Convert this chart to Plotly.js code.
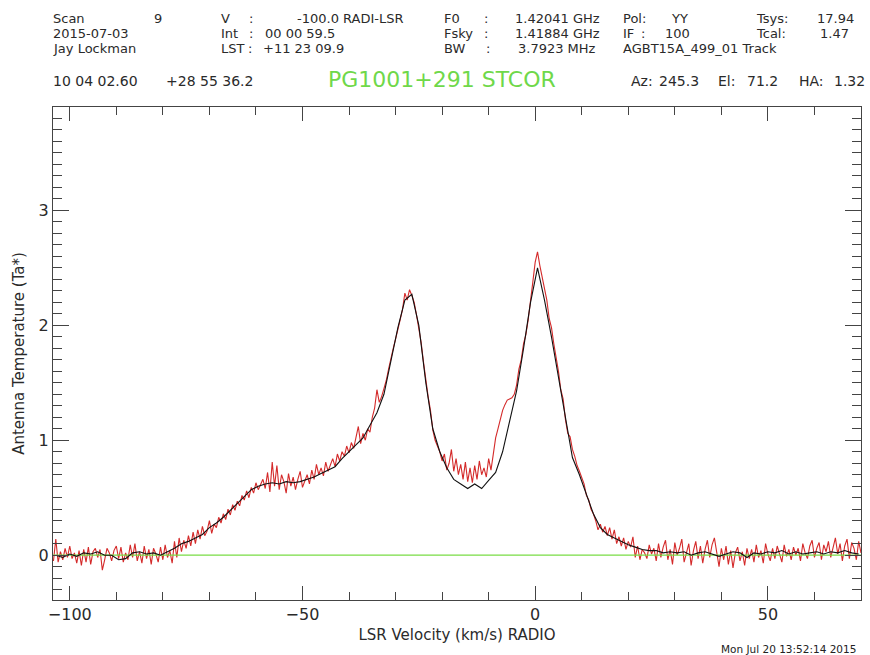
<!DOCTYPE html>
<html>
<head>
<meta charset="utf-8">
<script src="https://cdn.plot.ly/plotly-3.0.1.min.js"></script>
<style>
html,body{margin:0;padding:0;background:#fff;}
#chart{width:870px;height:655px;}
</style>
</head>
<body>
<div id="chart"></div>
<script>
// ---- Data ----
// Raw spectrum (red): channel grid start / width in km/s
const CHANNEL_START = -103.5;
const CHANNEL_WIDTH = 0.5;
const rawTa = [
  -0.05, 0.14, -0.06, 0.03, -0.04, 0.06, -0.02, 0.08, -0.03, 0.02,
  -0.07, 0.04, -0.09, 0.05, -0.06, 0.07, -0.08, 0.03, 0.06, -0.02,
  0.05, -0.13, -0.04, 0.06, 0.02, -0.05, 0.04, 0.08, -0.03, 0.07,
  -0.06, 0.02, -0.04, 0.09, -0.02, 0.10, -0.05, 0.03, -0.07, 0.08,
  -0.03, 0.05, -0.08, 0.06, 0.01, -0.06, 0.07, -0.04, 0.09, -0.02,
  0.04, -0.07, 0.12, -0.02, 0.15, 0.03, 0.13, 0.06, 0.17, 0.08,
  0.20, 0.10, 0.22, 0.14, 0.25, 0.17, 0.21, 0.30, 0.19, 0.27,
  0.24, 0.33, 0.28, 0.36, 0.31, 0.40, 0.35, 0.44, 0.39, 0.47,
  0.43, 0.52, 0.48, 0.56, 0.50, 0.59, 0.54, 0.63, 0.57, 0.61,
  0.66, 0.58, 0.72, 0.55, 0.81, 0.60, 0.78, 0.57, 0.70, 0.64,
  0.54, 0.71, 0.60, 0.68, 0.57, 0.66, 0.73, 0.59, 0.64, 0.70,
  0.62, 0.74, 0.66, 0.79, 0.70, 0.76, 0.69, 0.81, 0.73, 0.78,
  0.84, 0.77, 0.88, 0.82, 0.90, 0.86, 0.95, 0.89, 0.98, 0.93,
  1.02, 1.12, 0.97, 1.06, 1.00, 1.10, 1.07, 1.20, 1.28, 1.44,
  1.33, 1.38, 1.45, 1.52, 1.62, 1.72, 1.80, 1.88, 1.98, 2.05,
  2.14, 2.28, 2.22, 2.31, 2.26, 2.20, 2.09, 1.98, 1.85, 1.68,
  1.52, 1.38, 1.26, 1.09, 1.00, 0.95, 0.90, 0.82, 0.88, 0.74,
  0.80, 0.92, 0.73, 0.84, 0.70, 0.79, 0.66, 0.81, 0.64, 0.76,
  0.63, 0.78, 0.66, 0.82, 0.70, 0.76, 0.68, 0.84, 0.74, 0.88,
  1.02, 1.10, 1.19, 1.26, 1.31, 1.35, 1.36, 1.37, 1.40, 1.48,
  1.62, 1.70, 1.84, 1.92, 2.05, 2.20, 2.38, 2.55, 2.64, 2.52,
  2.42, 2.30, 2.22, 2.06, 1.98, 1.84, 1.72, 1.60, 1.44, 1.36,
  1.18, 1.06, 1.03, 0.92, 0.86, 0.78, 0.73, 0.68, 0.62, 0.52,
  0.48, 0.40, 0.36, 0.30, 0.22, 0.27, 0.20, 0.25, 0.17, 0.24,
  0.14, 0.22, 0.10, 0.16, 0.08, 0.15, 0.05, 0.12, 0.07, 0.16,
  -0.02, 0.08, -0.04, 0.05, 0.02, -0.03, 0.09, 0.01, 0.06, -0.05,
  0.10, -0.02, 0.07, 0.13, -0.04, 0.05, -0.08, 0.11, 0.00, 0.06,
  0.14, -0.06, 0.03, 0.10, -0.09, 0.04, 0.12, -0.03, 0.08, -0.07,
  0.05, 0.13, -0.02, 0.09, 0.15, 0.01, -0.10, 0.06, -0.04, 0.08,
  -0.08, 0.04, -0.11, 0.02, 0.07, -0.05, 0.03, -0.09, 0.06, -0.03,
  0.05, -0.06, 0.09, -0.02, 0.04, -0.07, 0.10, 0.01, -0.05, 0.06,
  -0.03, 0.08, 0.02, -0.06, 0.09, -0.01, 0.05, -0.04, 0.07, 0.00,
  0.06, -0.05, 0.10, 0.02, -0.03, 0.08, 0.13, -0.02, 0.06, 0.11,
  -0.04, 0.09, 0.03, 0.12, -0.02, 0.07, 0.15, 0.01, 0.10, -0.05,
  0.08, 0.14, -0.03, 0.11, 0.06, -0.04, 0.12, 0.02, 0.05, 0.03
];

// Smoothed spectrum (black): its own grid
const SMOOTH_START = -103;
const SMOOTH_WIDTH = 1.5;
const smoothTa = [
  0.00, -0.02, 0.01, -0.01, 0.02, 0.01, 0.03, 0.00, 0.00, -0.04,
  -0.03, 0.02, 0.03, 0.01, 0.02, 0.00, 0.03, 0.06, 0.10, 0.12,
  0.15, 0.18, 0.24, 0.28, 0.33, 0.39, 0.45, 0.51, 0.57, 0.60,
  0.62, 0.63, 0.62, 0.64, 0.63, 0.64, 0.66, 0.68, 0.71, 0.74,
  0.77, 0.84, 0.90, 0.96, 1.02, 1.13, 1.24, 1.40, 1.68, 1.98,
  2.22, 2.27, 2.00, 1.50, 1.10, 0.90, 0.76, 0.66, 0.62, 0.58,
  0.62, 0.58, 0.65, 0.72, 0.90, 1.17, 1.43, 1.80, 2.20, 2.50,
  2.22, 1.90, 1.55, 1.20, 0.85, 0.70, 0.52, 0.36, 0.24, 0.18,
  0.15, 0.12, 0.09, 0.07, 0.05, 0.04, 0.04, 0.02, 0.03, 0.02,
  0.03, 0.00, 0.02, 0.03, 0.01, -0.01, 0.01, 0.03, 0.02, -0.02,
  0.02, 0.01, 0.03, 0.02, 0.04, 0.01, 0.03, 0.01, 0.02, 0.03,
  0.01, 0.03, 0.02, 0.04, 0.02, 0.01
];

const BASELINE_TA = 0;
const X_RANGE = [-103.6, 70];
const Y_RANGE = [-0.39, 3.9];
const X_TICKS = [-100, -50, 0, 50];
const Y_TICKS = [0, 1, 2, 3];

// ---- Build channel velocities ----
const rawV = rawTa.map((_, i) => CHANNEL_START + i * CHANNEL_WIDTH);
const smoothV = smoothTa.map((_, i) => SMOOTH_START + i * SMOOTH_WIDTH);

// ---- Layout helpers ----
const L = 53, R = 9, T = 107, B = 55, Wd = 870, Ht = 655;
const PW = Wd - L - R, PH = Ht - T - B;
const px = x => (x - L) / PW;
const py = y => (Ht - B - y) / PH;

const FONT = 'DejaVu Sans, Liberation Sans, sans-serif';
const TXT = '#2a2a2a';
const HS = 13; // header font size
function ann(text, x, y, anchor, size, color) {
  return {
    text: text, xref: 'paper', yref: 'paper', x: px(x), y: py(y),
    xanchor: anchor || 'left', yanchor: 'middle', showarrow: false,
    borderpad: 0,
    font: {family: FONT, size: size || HS, color: color || TXT}
  };
}

const Y1 = 18, Y2 = 33.5, Y3 = 49, Y4 = 81;
const annotations = [
  // line 1
  ann('Scan', 52, Y1), ann('9', 163, Y1, 'right'),
  ann('V', 220, Y1), ann(':', 251, Y1, 'center'), ann('-100.0 RADI-LSR', 296, Y1),
  ann('F0', 443, Y1), ann(':', 486, Y1, 'center'), ann('1.42041 GHz', 514, Y1),
  ann('Pol:', 622, Y1), ann('YY', 679, Y1, 'center'),
  ann('Tsys:', 755, Y1), ann('17.94', 855, Y1, 'right'),
  // line 2
  ann('2015-07-03', 52, Y2),
  ann('Int', 220, Y2), ann(':', 251, Y2, 'center'), ann('00 00 59.5', 264, Y2),
  ann('Fsky', 443, Y2), ann(':', 486, Y2, 'center'), ann('1.41884 GHz', 514, Y2),
  ann('IF', 622, Y2), ann(':', 643, Y2, 'center'), ann('100', 664, Y2),
  ann('Tcal:', 755, Y2), ann('1.47', 850, Y2, 'right'),
  // line 3
  ann('Jay Lockman', 52, Y3),
  ann('LST', 220, Y3), ann(':', 250, Y3, 'center'), ann('+11 23 09.9', 262, Y3),
  ann('BW', 443, Y3), ann(':', 488, Y3, 'center'), ann('3.7923 MHz', 517, Y3),
  ann('AGBT15A_499_01 Track', 622, Y3),
  // line 4
  ann('10 04 02.60', 52, Y4, 'left', 14), ann('+28 55 36.2', 165, Y4, 'left', 14),
  ann('PG1001+291 STCOR', 442, 80, 'center', 22, '#6fd84a'),
  ann('Az:', 630, Y4, 'left', 14), ann('245.3', 658, Y4, 'left', 14),
  ann('El:', 717, Y4, 'left', 14), ann('71.2', 746, Y4, 'left', 14),
  ann('HA:', 798, Y4, 'left', 14), ann('1.32', 866, Y4, 'right', 14),
  // timestamp
  ann('Mon Jul 20 13:52:14 2015', 857, 649, 'right', 10.5, '#222')
];

const traces = [
  {x: rawV, y: rawTa, type: 'scatter', mode: 'lines',
   line: {color: '#d42a2a', width: 1.1}, hoverinfo: 'skip'},
  {x: X_RANGE, y: [BASELINE_TA, BASELINE_TA], type: 'scatter', mode: 'lines',
   line: {color: '#78dc44', width: 1.3}, hoverinfo: 'skip'},
  {x: smoothV, y: smoothTa, type: 'scatter', mode: 'lines',
   line: {color: '#111', width: 1.1}, hoverinfo: 'skip'}
];

const axisCommon = {
  showgrid: false, zeroline: false, showline: true, linecolor: '#444', linewidth: 1,
  mirror: 'ticks', ticks: 'inside', tickcolor: '#444', tickwidth: 1,
  tickfont: {family: FONT, size: 16, color: TXT}, fixedrange: true
};

const layout = {
  width: Wd, height: Ht,
  margin: {l: L, r: R, t: T, b: B, pad: 0},
  paper_bgcolor: '#fff', plot_bgcolor: '#fff',
  showlegend: false,
  font: {family: FONT, color: TXT},
  xaxis: Object.assign({}, axisCommon, {
    range: X_RANGE, tickmode: 'array', tickvals: X_TICKS,
    ticktext: X_TICKS.map(v => v < 0 ? '\u2212' + Math.abs(v) : String(v)),
    ticklen: 14,
    minor: {dtick: 10, tick0: 0, ticks: 'inside', ticklen: 8, tickcolor: '#444', tickwidth: 1, showgrid: false},
    title: {text: 'LSR Velocity (km/s) RADIO', font: {family: FONT, size: 15, color: TXT}, standoff: 6}
  }),
  yaxis: Object.assign({}, axisCommon, {
    range: Y_RANGE, tickmode: 'array', tickvals: Y_TICKS, ticklen: 16,
    minor: {dtick: 0.1, tick0: 0, ticks: 'inside', ticklen: 9, tickcolor: '#444', tickwidth: 1, showgrid: false},
    title: {text: 'Antenna Temperature (Ta*)', font: {family: FONT, size: 15, color: TXT}, standoff: 10}
  }),
  annotations: annotations
};

Plotly.newPlot('chart', traces, layout, {staticPlot: true, displayModeBar: false});
</script>
</body>
</html>
